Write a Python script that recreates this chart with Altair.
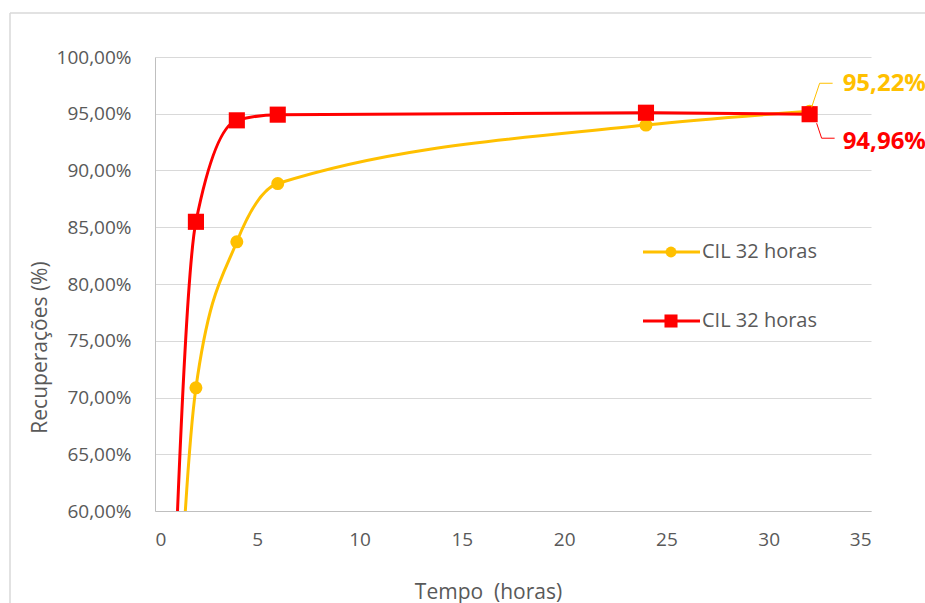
import altair as alt
import pandas as pd

# Recovery curves (fraction recovered) against leaching time in hours
tempo = [0, 2, 4, 6, 24, 32]
serie_amarela = [0.0, 0.7085, 0.8372, 0.8885, 0.9400, 0.9522]
serie_vermelha = [0.0, 0.8548, 0.9442, 0.9492, 0.9509, 0.9496]
nome_serie = "CIL 32 horas"
y_ticks = [0.60, 0.65, 0.70, 0.75, 0.80, 0.85, 0.90, 0.95, 1.00]
x_ticks = [0, 5, 10, 15, 20, 25, 30, 35]

AMARELO = "#FFC000"
VERMELHO = "#FF0000"
CINZA = "#595959"
FONTE = "Open Sans"

W, H = 716, 454

amarela = pd.DataFrame({"t": tempo, "r": serie_amarela})
vermelha = pd.DataFrame({"t": tempo, "r": serie_vermelha})

x_enc = alt.X(
    "t:Q",
    scale=alt.Scale(domain=[0, 35], nice=False),
    axis=alt.Axis(
        values=x_ticks, title="Tempo\u00a0 (horas)", grid=False, ticks=False,
        domainColor="#bfbfbf", labelPadding=19, titleX=333, titleY=81,
        titleBaseline="middle",
    ),
)
y_enc = alt.Y(
    "r:Q",
    scale=alt.Scale(domain=[0.6, 1.0], nice=False, zero=False),
    axis=alt.Axis(
        values=y_ticks, title="Recuperações (%)", grid=True, ticks=False,
        gridColor="#d9d9d9", domainColor="#bfbfbf", labelPadding=24,
        labelExpr="replace(format(datum.value, '.2%'), '.', ',')",
        titleX=-115, titleY=290, titleBaseline="middle", titleAngle=-90,
    ),
)


def curva(df, cor, forma, tamanho):
    base = alt.Chart(df)
    linha = base.mark_line(
        color=cor, strokeWidth=3, interpolate="monotone", clip=True
    ).encode(x=x_enc, y=y_enc)
    pontos = base.mark_point(
        color=cor, filled=True, opacity=1, shape=forma, size=tamanho, clip=True
    ).encode(x="t:Q", y="r:Q")
    return linha + pontos


c_amarela = curva(amarela, AMARELO, "circle", 170)
c_vermelha = curva(vermelha, VERMELHO, "square", 260)


def fmt(v):
    return f"{v*100:.2f}%".replace(".", ",")


# Value callouts on the last point of each series
ultimo_a = amarela.tail(1).assign(rot=lambda d: d.r.map(fmt))
ultimo_v = vermelha.tail(1).assign(rot=lambda d: d.r.map(fmt))


def rotulo(df, cor, dy, p1, p2, p3):
    base = alt.Chart(df)
    enc = dict(x="t:Q", y="r:Q", x2="t:Q", y2="r:Q")
    seg1 = base.mark_rule(color=cor, strokeWidth=1, xOffset=p1[0], yOffset=p1[1],
                          x2Offset=p2[0], y2Offset=p2[1]).encode(**enc)
    seg2 = base.mark_rule(color=cor, strokeWidth=1, xOffset=p2[0], yOffset=p2[1],
                          x2Offset=p3[0], y2Offset=p3[1]).encode(**enc)
    txt = base.mark_text(color=cor, font=FONTE, fontSize=24, fontWeight="bold",
                         align="left", baseline="middle", dx=33, dy=dy).encode(
        x="t:Q", y="r:Q", text="rot:N")
    return seg1 + seg2 + txt


r_amarela = rotulo(ultimo_a, AMARELO, -27, (2, -4), (10, -28), (23, -28))
r_vermelha = rotulo(ultimo_v, VERMELHO, 28, (7, 9), (12, 24), (25, 24))


# Legend drawn inside the plot area
def entrada(cor, forma, tamanho, ly):
    base = alt.Chart(pd.DataFrame({"nome": [nome_serie]}))
    traco = base.mark_rule(color=cor, strokeWidth=3).encode(
        x=alt.value(488), x2=alt.value(545), y=alt.value(ly))
    marca = base.mark_point(color=cor, filled=True, opacity=1, shape=forma,
                            size=tamanho).encode(x=alt.value(516), y=alt.value(ly))
    texto = base.mark_text(color=CINZA, font=FONTE, fontSize=20, align="left",
                           baseline="middle").encode(
        x=alt.value(547), y=alt.value(ly), text="nome:N")
    return traco + marca + texto


leg_a = entrada(AMARELO, "circle", 120, 195)
leg_v = entrada(VERMELHO, "square", 170, 264)

# Chart-area frame (left and top edges)
base_moldura = alt.Chart(pd.DataFrame({"k": [0]}))
moldura = base_moldura.mark_rule(color="#d9d9d9", strokeWidth=1.5).encode(
    x=alt.value(-145), y=alt.value(-44), y2=alt.value(560)
) + base_moldura.mark_rule(color="#d9d9d9", strokeWidth=1.5).encode(
    x=alt.value(-145), x2=alt.value(780), y=alt.value(-44)
)

chart = alt.layer(
    moldura, c_amarela, c_vermelha, r_amarela, r_vermelha, leg_a, leg_v
).properties(
    width=W, height=H,
    background="white",
    autosize=alt.AutoSizeParams(type="none"),
    padding={"left": 155, "top": 57, "right": 54, "bottom": 92},
).configure_view(
    stroke=None
).configure_axis(
    labelFont=FONTE, labelFontSize=19, labelColor=CINZA,
    titleFont=FONTE, titleFontSize=21, titleColor=CINZA, titleFontWeight="normal",
)

chart.save("out.html", embed_options={"renderer": "svg", "actions": False})
